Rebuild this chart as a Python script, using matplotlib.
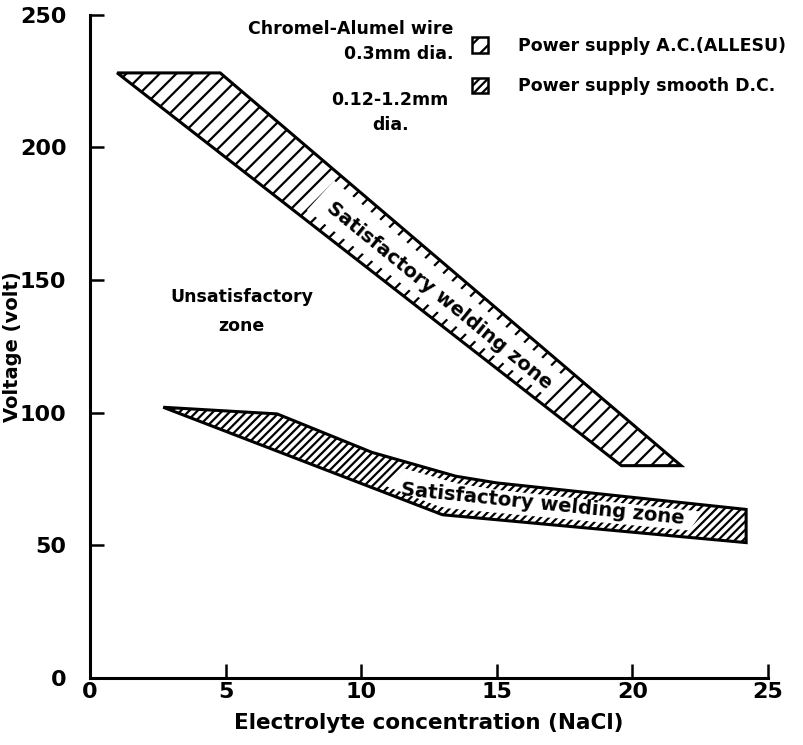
import numpy as np
import matplotlib
matplotlib.use("Agg")
import matplotlib.pyplot as plt
from matplotlib.patches import Polygon, Patch

# bandas (concentracion NaCl, voltaje)
ac_top_x = [1.0, 4.8, 21.8]
ac_top_v = [228, 228, 80]
ac_bot_x = [1.0, 19.6, 21.8]
ac_bot_v = [228, 80, 80]

dc_top_x = [2.7, 6.9, 10.4, 13.5, 15.0, 24.2]
dc_top_v = [102, 99.5, 85, 76, 73.5, 63.5]
dc_bot_x = [2.7, 13.0, 24.2]
dc_bot_v = [102, 61.5, 51]

x_ticks = [0, 5, 10, 15, 20, 25]
y_ticks = [0, 50, 100, 150, 200, 250]

plt.rcParams['font.family'] = ['DejaVu Sans']
plt.rcParams['font.weight'] = 'bold'
plt.rcParams['hatch.linewidth'] = 1.6

fig = plt.figure(figsize=(8.04, 7.45), dpi=100)
ax = fig.add_axes([0.112, 0.090, 0.843, 0.8905])
ax.set_xlim(0, 25)
ax.set_ylim(0, 250)

def banda(tx, tv, bx, bv, hatch):
    pts = list(zip(tx, tv)) + list(zip(bx[::-1], bv[::-1]))
    ax.add_patch(Polygon(pts, closed=True, facecolor='white', edgecolor='black',
                         linewidth=2.2, hatch=hatch, zorder=2))

def mascara(tx, tv, bx, bv, top_rng, bot_rng, d):
    # tapa el rayado en el centro, deja solo las marquitas en los bordes
    xs_t = np.linspace(top_rng[0], top_rng[1], 30)
    xs_b = np.linspace(bot_rng[0], bot_rng[1], 30)
    ys_t = np.interp(xs_t, tx, tv) - d
    ys_b = np.interp(xs_b, bx, bv) + d
    pts = list(zip(xs_t, ys_t)) + list(zip(xs_b[::-1], ys_b[::-1]))
    ax.add_patch(Polygon(pts, closed=True, facecolor='white', edgecolor='none', zorder=3))

def angulo(tx, tv, bx, bv, x0, x1):
    m0 = (np.interp(x0, tx, tv) + np.interp(x0, bx, bv)) / 2
    m1 = (np.interp(x1, tx, tv) + np.interp(x1, bx, bv)) / 2
    p0 = ax.transData.transform((x0, m0))
    p1 = ax.transData.transform((x1, m1))
    return np.degrees(np.arctan2(p1[1] - p0[1], p1[0] - p0[0]))

banda(ac_top_x, ac_top_v, ac_bot_x, ac_bot_v, '//')
banda(dc_top_x, dc_top_v, dc_bot_x, dc_bot_v, '////')

mascara(ac_top_x, ac_top_v, ac_bot_x, ac_bot_v, (9.0, 17.6), (8.0, 16.8), 4.0)
mascara(dc_top_x, dc_top_v, dc_bot_x, dc_bot_v, (11.6, 22.6), (10.9, 22.1), 2.6)

ang1 = angulo(ac_top_x, ac_top_v, ac_bot_x, ac_bot_v, 9, 17)
ang2 = angulo(dc_top_x, dc_top_v, dc_bot_x, dc_bot_v, 14, 22)
ax.text(12.9, 144, "Satisfactory welding zone", rotation=ang1, rotation_mode='anchor',
        ha='center', va='center', fontsize=14, zorder=4)
ax.text(16.7, 65.5, "Satisfactory welding zone", rotation=ang2, rotation_mode='anchor',
        ha='center', va='center', fontsize=14, zorder=4)

ax.text(5.6, 138, "Unsatisfactory\nzone", ha='center', va='center', fontsize=12.5,
        linespacing=1.75)

# leyenda
handles = [Patch(facecolor='white', edgecolor='black', linewidth=1.8, hatch='//'),
           Patch(facecolor='white', edgecolor='black', linewidth=1.8, hatch='////')]
labels = ["Power supply A.C.(ALLESU)", "Power supply smooth D.C."]
ax.legend(handles, labels, loc='upper left', bbox_to_anchor=(0.54, 0.99), frameon=False,
          fontsize=12.5, handlelength=0.95, handleheight=1.0, handletextpad=1.7,
          labelspacing=1.3)

ax.text(13.4, 248, "Chromel-Alumel wire\n0.3mm dia.", ha='right', va='top',
        multialignment='right', fontsize=12.5, linespacing=1.5)
ax.text(11.07, 221, "0.12-1.2mm\ndia.", ha='center', va='top', fontsize=12.5,
        linespacing=1.5)

ax.set_xticks(x_ticks)
ax.set_yticks(y_ticks)
ax.tick_params(direction='in', length=10, width=1.8, labelsize=16)
ax.tick_params(axis='y', pad=17)
ax.tick_params(axis='x', pad=3)
for s in ['top', 'right']:
    ax.spines[s].set_visible(False)
for s in ['left', 'bottom']:
    ax.spines[s].set_linewidth(2.2)

ax.set_xlabel("Electrolyte concentration (NaCl)", fontsize=15.5, fontweight='bold', labelpad=8)
ax.set_ylabel("Voltage (volt)", fontsize=14, fontweight='bold')
ax.yaxis.set_label_coords(-0.1, 0.5)

fig.savefig("out.png", dpi=100)
